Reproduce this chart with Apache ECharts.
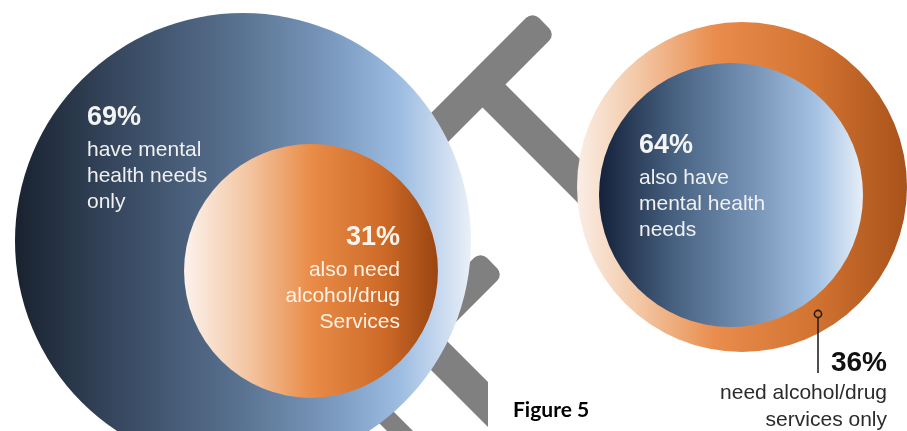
<!DOCTYPE html>
<html>
<head>
<meta charset="utf-8">
<script src="https://cdn.jsdelivr.net/npm/echarts@6/dist/echarts.min.js"></script>
<style>
  html, body { margin: 0; padding: 0; background: #ffffff; }
  #chart { width: 907px; height: 431px; }
</style>
</head>
<body>
<div id="chart"></div>
<script>
// People with mental health needs: needs only vs. also needing alcohol/drug services
const mhGroups = ['Mental health needs only', 'Also need alcohol/drug services'];
const mhShares = [69, 31];
const mhText = ['have mental\nhealth needs\nonly', 'also need\nalcohol/drug\nServices'];

// People needing alcohol/drug services: services only vs. also having mental health needs
const aodGroups = ['Alcohol/drug services only', 'Also have mental health needs'];
const aodShares = [36, 64];
const aodText = ['need alcohol/drug\nservices only', 'also have\nmental health\nneeds'];

const figureTitle = 'Figure 5';

// ---- layout ----
const mhCenter = [243, 241], mhRadius = 228, mhInnerCenter = [311, 271];
const aodCenter = [742, 187], aodRadius = 165, aodInnerCenter = [731, 195];

const FONT = '"Liberation Sans", Arial, Helvetica, sans-serif';

function hGrad(stops) {
  return {
    type: 'linear', x: 0, y: 0, x2: 1, y2: 0,
    colorStops: stops.map(s => ({ offset: s[0], color: s[1] }))
  };
}
const blueWide = hGrad([[0, '#19222f'], [0.22, '#36475e'], [0.5, '#5a7392'], [0.7, '#7b9abf'], [0.84, '#9bbbe0'], [0.93, '#c6d8ee'], [1, '#e9f0f8']]);
const orangeSmall = hGrad([[0, '#fcf2ec'], [0.25, '#f3c6a3'], [0.5, '#e98c48'], [0.78, '#cf6b29'], [1, '#9a4510']]);
const orangeRing = hGrad([[0, '#faeee6'], [0.18, '#f3c9a8'], [0.42, '#e98c4c'], [0.72, '#d27331'], [1, '#a8521a']]);
const blueSmall = hGrad([[0, '#14213a'], [0.28, '#46607f'], [0.58, '#7693b6'], [0.82, '#a3c1e2'], [1, '#e6eef8']]);

// area of the inner disc is its share of the whole circle
const innerR = (R, share) => R * Math.sqrt(share / 100);

function disc(name, value, center, radius, color, z) {
  return {
    type: 'pie', silent: true, animation: false, z: z,
    center: center, radius: [0, radius], startAngle: 90,
    label: { show: false }, labelLine: { show: false },
    emphasis: { disabled: true },
    itemStyle: { color: color, borderWidth: 0 },
    data: [{ name: name, value: value }]
  };
}

// grey connector pieces, drawn behind the circles
const GREY = '#808080';
function cap(x, y, len) {
  // bar running up-right with a rounded end at (x, y)
  return {
    type: 'rect', z: 0, x: x, y: y, rotation: Math.PI / 4,
    shape: { x: -len, y: -16.25, width: len, height: 32.5, r: [0, 9, 9, 0] },
    style: { fill: GREY }
  };
}
// point given by (x+y, x-y)
const st = (s, t) => [(s + t) / 2, (s - t) / 2];
function poly(points) {
  return { type: 'polygon', z: 0, shape: { points: points }, style: { fill: GREY } };
}

const textEl = (x, y, text, opts) => ({
  type: 'text', z: 10, x: x, y: y,
  style: Object.assign({ text: text, textVerticalAlign: 'top' }, opts)
});

const pctStyle = (fill, align) => ({ font: 'bold 27px ' + FONT, fill: fill, textAlign: align, lineHeight: 30 });
const descStyle = (fill, align, lh) => ({ font: '21px ' + FONT, fill: fill, textAlign: align, lineHeight: lh || 26 });

const chart = echarts.init(document.getElementById('chart'), null, { renderer: 'canvas' });
chart.setOption({
  animation: false,
  backgroundColor: '#ffffff',
  series: [
    disc(mhGroups[0], mhShares[0], mhCenter, mhRadius, blueWide, 2),
    disc(mhGroups[1], mhShares[1], mhInnerCenter, innerR(mhRadius, mhShares[1]), orangeSmall, 3),
    disc(aodGroups[0], aodShares[0], aodCenter, aodRadius, orangeRing, 2),
    disc(aodGroups[1], aodShares[1], aodInnerCenter, innerR(aodRadius, aodShares[1]), blueSmall, 3)
  ],
  graphic: [
    // upper connector
    cap(544, 23, 200),
    poly([st(568, 375), st(568, 421), st(790, 421), st(790, 375)]),
    // lower connector, its stem cut square at the right
    cap(492, 263, 140),
    poly([st(755, 61), st(755, 106), [488, 382], [488, 427]]),
    poly([st(740, -44), st(740, -18), st(900, -18), st(900, -44)]),

    // labels on the mental health circle
    textEl(87, 103, mhShares[0] + '%', pctStyle('#f4f4f4', 'left')),
    textEl(87, 137, mhText[0], descStyle('#f0f0f0', 'left')),
    textEl(400, 223, mhShares[1] + '%', pctStyle('#fff4ea', 'right')),
    textEl(400, 257, mhText[1], descStyle('#fff1e4', 'right')),

    // labels on the alcohol/drug circle
    textEl(639, 131, aodShares[1] + '%', pctStyle('#f4f4f4', 'left')),
    textEl(639, 165, aodText[1], descStyle('#f0f0f0', 'left')),

    // pointer to the outer ring
    { type: 'line', z: 10, shape: { x1: 818, y1: 318, x2: 818, y2: 373 }, style: { stroke: '#222222', lineWidth: 1.6 } },
    { type: 'circle', z: 11, shape: { cx: 818, cy: 314, r: 3.6 }, style: { fill: 'none', stroke: '#2a1a10', lineWidth: 1.6 } },
    textEl(887, 348, aodShares[0] + '%', { font: 'bold 28px ' + FONT, fill: '#111111', textAlign: 'right', lineHeight: 30 }),
    textEl(887, 380, aodText[0], descStyle('#2b2b2b', 'right', 27)),

    textEl(513, 397, figureTitle, { font: 'bold 21px Lato, "Open Sans", sans-serif', fill: '#000000', textAlign: 'left', lineHeight: 26 })
  ]
});
</script>
</body>
</html>
